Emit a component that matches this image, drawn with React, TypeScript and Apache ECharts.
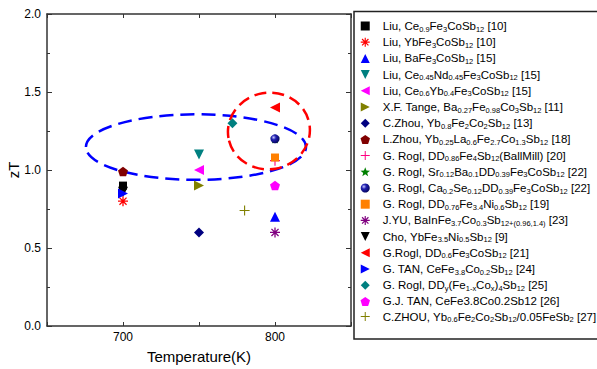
import React, { useEffect, useRef } from "react";
import * as echarts from "echarts";

// ---------- data ----------
const seriesLabels = [
  "Liu, Ce_{0.9}Fe_{3}CoSb_{12} [10]",
  "Liu, YbFe_{3}CoSb_{12} [10]",
  "Liu, BaFe_{3}CoSb_{12} [15]",
  "Liu, Ce_{0.45}Nd_{0.45}Fe_{3}CoSb_{12} [15]",
  "Liu, Ce_{0.6}Yb_{0.4}Fe_{3}CoSb_{12} [15]",
  "X.F. Tange, Ba_{0.27}Fe_{0.98}Co_{3}Sb_{12} [11]",
  "C.Zhou, Yb_{0.8}Fe_{2}Co_{2}Sb_{12} [13]",
  "L.Zhou, Yb_{0.25}La_{0.6}Fe_{2.7}Co_{1.3}Sb_{12} [18]",
  "G. Rogl, DD_{0.86}Fe_{4}Sb_{12}(BallMill) [20]",
  "G. Rogl, Sr_{0.12}Ba_{0.1}DD_{0.39}Fe_{3}CoSb_{12} [22]",
  "G. Rogl, Ca_{0.2}Se_{0.12}DD_{0.39}Fe_{3}CoSb_{12} [22]",
  "G. Rogl, DD_{0.76}Fe_{3.4}Ni_{0.6}Sb_{12} [19]",
  "J.YU, BaInFe_{3.7}Co_{0.3}Sb_{12+(0.96,1.4)} [23]",
  "Cho, YbFe_{3.5}Ni_{0.5}Sb_{12} [9]",
  "G.Rogl, DD_{0.6}Fe_{3}CoSb_{12} [21]",
  "G. TAN, CeFe_{3.8}Co_{0.2}Sb_{12} [24]",
  "G. Rogl, DD_{y}(Fe_{1-x}Co_{x})_{4}Sb_{12} [25]",
  "G.J. TAN, CeFe3.8Co0.2Sb12 [26]",
  "C.ZHOU, Yb_{0.6}Fe_{2}Co_{2}Sb_{12}/0.05FeSb_{2} [27]",
];
const temperatureK = [700, 700, 800, 750, 750, 750, 750, 700, 800, 800, 800, 800, 800, 700, 800, 700, 772, 800, 780];
const zTValues = [0.9, 0.8, 0.7, 1.1, 1.0, 0.9, 0.6, 0.99, 1.06, 1.2, 1.2, 1.08, 0.6, 0.86, 1.4, 0.85, 1.3, 0.9, 0.74];
const xLabelValues = [700, 800];
// dashed ellipse annotations in data units: [centerT, centerZT, radiusT, radiusZT]
const blueEllipse = [748, 1.147, 72.4, 0.21];
const redEllipse = [796, 1.25, 27, 0.245];

// ---------- styles ----------
const FONT = '"Liberation Sans", Arial, sans-serif';

function bars(angles: number[], w: number): string {
  return angles
    .map((a) => {
      const r = (a * Math.PI) / 180;
      const dx = Math.cos(r), dy = Math.sin(r);
      const nx = -dy, ny = dx;
      const L = 5, W = w / 2;
      const p = [
        [5 - L * dx - W * nx, 5 - L * dy - W * ny],
        [5 + L * dx - W * nx, 5 + L * dy - W * ny],
        [5 + L * dx + W * nx, 5 + L * dy + W * ny],
        [5 - L * dx + W * nx, 5 - L * dy + W * ny],
      ];
      return "M" + p.map((q) => q[0].toFixed(2) + "," + q[1].toFixed(2)).join("L") + "Z";
    })
    .join("");
}
function poly(n: number, rOut: number, rIn?: number): string {
  const pts: string[] = [];
  const count = rIn ? n * 2 : n;
  for (let i = 0; i < count; i++) {
    const r = rIn ? (i % 2 === 0 ? rOut : rIn) : rOut;
    const a = -Math.PI / 2 + (i * 2 * Math.PI) / count;
    pts.push((5 + r * Math.cos(a)).toFixed(2) + "," + (5 + r * Math.sin(a)).toFixed(2));
  }
  return "M" + pts.join("L") + "Z";
}
const SQUARE = "path://M0,0L10,0L10,10L0,10Z";
const UP = "path://M5,0L10,10L0,10Z";
const DOWN = "path://M0,0L10,0L5,10Z";
const LEFT = "path://M0,5L10,0L10,10Z";
const RIGHT = "path://M0,0L10,5L0,10Z";
const DIAMOND = "path://M5,0L10,5L5,10L0,5Z";
const PENTAGON = "path://" + poly(5, 5);
const STAR = "path://" + poly(5, 5, 2.1);
const ASTER = "path://" + bars([0, 45, 90, 135], 1.3);
const PLUS = "path://" + bars([0, 90], 1.1);
const SPHERE_COLOR = {
  type: "radial",
  x: 0.35,
  y: 0.35,
  r: 0.75,
  colorStops: [
    { offset: 0, color: "#c8c8ff" },
    { offset: 0.35, color: "#2020b0" },
    { offset: 1, color: "#000050" },
  ],
};
const markerStyles: { symbol: string; color: any; size: number }[] = [
  { symbol: SQUARE, color: "#000000", size: 8 },
  { symbol: ASTER, color: "#ff0000", size: 10 },
  { symbol: UP, color: "#0000ff", size: 10 },
  { symbol: DOWN, color: "#008080", size: 10 },
  { symbol: LEFT, color: "#ff00ff", size: 10 },
  { symbol: RIGHT, color: "#808000", size: 10 },
  { symbol: DIAMOND, color: "#000080", size: 10 },
  { symbol: PENTAGON, color: "#800000", size: 10 },
  { symbol: PLUS, color: "#ff0080", size: 10 },
  { symbol: STAR, color: "#008000", size: 10 },
  { symbol: "circle", color: SPHERE_COLOR, size: 9 },
  { symbol: SQUARE, color: "#ff8000", size: 8 },
  { symbol: ASTER, color: "#800080", size: 10 },
  { symbol: DOWN, color: "#000000", size: 10 },
  { symbol: LEFT, color: "#ff0000", size: 10 },
  { symbol: RIGHT, color: "#0000ff", size: 10 },
  { symbol: DIAMOND, color: "#008080", size: 10 },
  { symbol: PENTAGON, color: "#ff00ff", size: 10 },
  { symbol: PLUS, color: "#808000", size: 10 },
];

function toRich(name: string): string {
  const parts = name.split(/_\{([^}]*)\}/);
  let out = "";
  parts.forEach((p, i) => {
    if (!p) return;
    out += i % 2 === 0 ? "{n|" + p + "}" : "{s|" + p + "}";
  });
  return out;
}

const AXIS_COLOR = "#333333";

export default function App() {
  const ref = useRef<HTMLDivElement>(null);
  useEffect(() => {
    if (!ref.current) return;
    const chart = echarts.init(ref.current, undefined, { renderer: "svg" });
    const commonX = {
      type: "value",
      min: 650,
      max: 850,
      interval: 50,
      splitLine: { show: false },
      axisLine: { show: true, onZero: false, lineStyle: { color: AXIS_COLOR, width: 1.5 } },
      axisTick: { show: true, inside: true, length: 4, lineStyle: { color: AXIS_COLOR, width: 1 } },
    };
    const commonY = {
      type: "value",
      min: 0,
      max: 2,
      interval: 0.5,
      splitLine: { show: false },
      axisLine: { show: true, onZero: false, lineStyle: { color: AXIS_COLOR, width: 1.5 } },
      axisTick: { show: true, inside: true, length: 5, lineStyle: { color: AXIS_COLOR, width: 1 } },
      minorTick: { show: true, splitNumber: 2, length: 3, lineStyle: { color: AXIS_COLOR, width: 1 } },
      minorSplitLine: { show: false },
    };
    const option: any = {
      animation: false,
      backgroundColor: "#ffffff",
      grid: { left: 47, top: 14, right: 246, bottom: 43, outerBoundsMode: "none" },
      xAxis: [
        {
          ...commonX,
          position: "bottom",
          name: "Temperature(K)",
          nameLocation: "middle",
          nameGap: 23,
          nameMoveOverlap: false,
          nameTextStyle: { color: "#000", fontFamily: FONT, fontSize: 15 },
          axisLabel: {
            color: "#000",
            fontFamily: FONT,
            fontSize: 12,
            margin: 5,
            formatter: (v: number) => (xLabelValues.indexOf(v) >= 0 ? String(v) : ""),
          },
        },
        { ...commonX, position: "top", axisLabel: { show: false } },
      ],
      yAxis: [
        {
          ...commonY,
          position: "left",
          name: "zT",
          nameLocation: "middle",
          nameGap: 26,
          nameMoveOverlap: false,
          nameTextStyle: { color: "#000", fontFamily: FONT, fontSize: 15 },
          axisLabel: {
            color: "#000",
            fontFamily: FONT,
            fontSize: 12,
            margin: 6,
            formatter: (v: number) => v.toFixed(1),
          },
        },
        { ...commonY, position: "right", axisLabel: { show: false } },
      ],
      legend: {
        orient: "vertical",
        left: 360.5,
        top: 20,
        padding: 0,
        itemWidth: 25,
        itemHeight: 9,
        itemGap: 3.2,
        selectedMode: false,
        data: seriesLabels,
        formatter: (name: string) => toRich(name),
        textStyle: {
          color: "#000",
          fontFamily: FONT,
          fontSize: 11.5,
          rich: {
            n: { fontFamily: FONT, fontSize: 11.5, color: "#000", lineHeight: 14 },
            s: { fontFamily: FONT, fontSize: 7.5, color: "#000", lineHeight: 4, verticalAlign: "bottom" },
          },
        },
      },
      series: seriesLabels.map((name, i) => ({
        type: "scatter",
        name,
        xAxisIndex: 0,
        yAxisIndex: 0,
        z: 3,
        symbol: markerStyles[i].symbol,
        symbolSize: markerStyles[i].size,
        symbolKeepAspect: true,
        itemStyle: { color: markerStyles[i].color, opacity: 1 },
        data: [[temperatureK[i], zTValues[i]]],
      })),
    };
    chart.setOption(option);

    const toPx = (e: number[]) => {
      const c = chart.convertToPixel({ gridIndex: 0 }, [e[0], e[1]]) as number[];
      const rx = chart.convertToPixel({ gridIndex: 0 }, [e[0] + e[2], e[1]]) as number[];
      const ry = chart.convertToPixel({ gridIndex: 0 }, [e[0], e[1] + e[3]]) as number[];
      return { cx: c[0], cy: c[1], rx: Math.abs(rx[0] - c[0]), ry: Math.abs(c[1] - ry[1]) };
    };
    const b = toPx(blueEllipse);
    const r = toPx(redEllipse);
    chart.setOption({
      graphic: [
        {
          type: "ellipse",
          x: b.cx,
          y: b.cy,
          z: 1,
          silent: true,
          shape: { cx: 0, cy: 0, rx: b.rx, ry: b.ry },
          style: { fill: "none", stroke: "#0000ff", lineWidth: 2.5, lineDash: [14, 7] },
        },
        {
          type: "ellipse",
          x: r.cx,
          y: r.cy,
          rotation: 0.17,
          z: 1,
          silent: true,
          shape: { cx: 0, cy: 0, rx: r.rx, ry: r.ry },
          style: { fill: "none", stroke: "#ff0000", lineWidth: 2.5, lineDash: [12, 6] },
        },
        {
          type: "rect",
          z: 0,
          silent: true,
          shape: { x: 354, y: 11.5, width: 260, height: 327.5 },
          style: { fill: "none", stroke: "#222222", lineWidth: 1.5 },
        },
      ],
    });
    return () => chart.dispose();
  }, []);
  return <div ref={ref} style={{ width: 597, height: 369, position: "absolute", left: 0, top: 0 }} />;
}
